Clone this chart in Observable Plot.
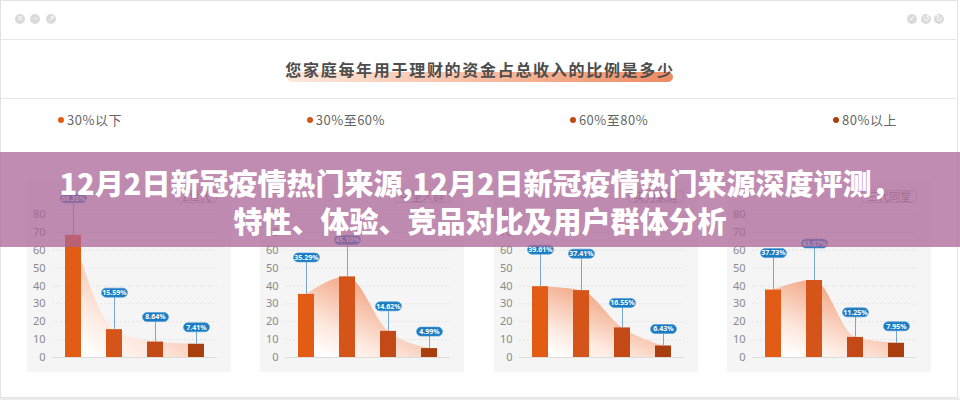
<!DOCTYPE html>
<html>
<head>
<meta charset="utf-8">
<script src="https://cdn.jsdelivr.net/npm/d3@7"></script>
<script src="https://cdn.jsdelivr.net/npm/@observablehq/plot@0.6"></script>
<style>
  html, body { margin: 0; padding: 0; }
  body { width: 960px; height: 400px; overflow: hidden; position: relative; background: #fff;
         font-family: "Noto Sans CJK SC", "Noto Sans", sans-serif; }
  .abs { position: absolute; }
  #frame { left: 0; top: 0; width: 958px; height: 398px; box-sizing: border-box; border: 1px solid #e3e3e3; }
  #bottomband { left: 0; top: 398px; width: 960px; height: 2px; background: #ececec; }
  .hline { left: 0; width: 958px; height: 1px; background: #e6e6e6; }
  .cdot { width: 10px; height: 10px; border-radius: 50%; background: #dadada; color: #fff;
          font-size: 8px; line-height: 10px; text-align: center; font-family: "DejaVu Sans", sans-serif; }
  #titlehl { left: 287px; top: 72px; width: 386px; height: 10px; border-radius: 5px;
             background: linear-gradient(90deg, #fde7dc 0%, #f7bda2 50%, #ee8a62 100%); }
  #title { left: 0; width: 960px; top: 58px; text-align: center; font-size: 16px; font-weight: 700;
           color: #4d4d4d; letter-spacing: 1.7px; line-height: 22px; }
  #legend { left: 58px; width: 839px; top: 111px; display: flex; justify-content: space-between;
            font-size: 13px; color: #666; letter-spacing: 0.5px; line-height: 18px; }
  .litem { display: flex; align-items: center; }
  .ldot { width: 6px; height: 6px; border-radius: 50%; margin-right: 3px; }
  .panel { top: 180px; }
  .ptitle { top: 190px; height: 13px; box-sizing: border-box; border: 1px solid #c9c9c9; border-radius: 4px;
            font-size: 11px; line-height: 11px; color: #8a8a8a; padding: 0 5px; background: #f5f5f6; }
  #banner { left: 0; top: 152px; width: 960px; height: 95px; background: rgba(172, 100, 150, 0.74);
            z-index: 10; color: #fff; font-weight: 900; font-size: 29px; line-height: 38px; text-align: center;
            box-sizing: border-box; padding-top: 11px; }
</style>
</head>
<body>
<script>
// ---- data ----
const chartTitle = "您家庭每年用于理财的资金占总收入的比例是多少";
const categories = ["30%以下", "30%至60%", "60%至80%", "80%以上"];
const groups = ["Z世代", "中坚人群", "实力家庭", "三代同堂"];
const valuesZ = [68.35, 15.59, 8.64, 7.41];
const valuesCore = [35.29, 45.10, 14.62, 4.99];
const valuesStrong = [39.61, 37.41, 16.55, 6.43];
const valuesThreeGen = [37.73, 43.07, 11.25, 7.95];
const yTicks = [0, 10, 20, 30, 40, 50, 60, 70, 80];
const bannerLines = ["12月2日新冠疫情热门来源,12月2日新冠疫情热门来源深度评测，", "特性、体验、竞品对比及用户群体分析"];

// ---- styles ----
const barColors = ["#e35c16", "#d4541a", "#c34917", "#a93e0e"];
const leaderLen = [20.7, 20.7, 14, 9.5]; // callout lift, in y units, per category position
const allValues = [valuesZ, valuesCore, valuesStrong, valuesThreeGen];

function el(tag, cls, css, text) {
  const e = document.createElement(tag);
  if (cls) e.className = cls;
  if (css) Object.assign(e.style, css);
  if (text != null) e.textContent = text;
  document.body.appendChild(e);
  return e;
}

// window chrome
el("div", "abs", {}, null).id = "frame";
el("div", "abs", {}, null).id = "bottomband";
el("div", "abs hline", {top: "39px"});
el("div", "abs hline", {top: "98px"});
[[15, "×"], [30, "–"], [46, "↗"]].forEach(([x, g]) => el("div", "abs cdot", {left: x + "px", top: "14px"}, g));
[[907, "✓"], [921, "↺"], [934, "↻"]].forEach(([x, g]) => el("div", "abs cdot", {left: x + "px", top: "14px"}, g));

// title + highlight
el("div", "abs", {}, null).id = "titlehl";
const t = el("div", "abs", {}, chartTitle); t.id = "title";

// legend
const lg = el("div", "abs"); lg.id = "legend";
categories.forEach((c, i) => {
  const it = document.createElement("div"); it.className = "litem";
  const d = document.createElement("span"); d.className = "ldot"; d.style.background = barColors[i];
  const s = document.createElement("span"); s.textContent = c;
  it.appendChild(d); it.appendChild(s); lg.appendChild(it);
});

// pill symbol for callouts
const pill = {
  draw(ctx) {
    const w = 26, h = 9, r = 4.5;
    ctx.moveTo(-w / 2 + r, -h / 2);
    ctx.lineTo(w / 2 - r, -h / 2);
    ctx.arc(w / 2 - r, 0, r, -Math.PI / 2, Math.PI / 2);
    ctx.lineTo(-w / 2 + r, h / 2);
    ctx.arc(-w / 2 + r, 0, r, Math.PI / 2, Math.PI * 1.5);
    ctx.closePath();
  }
};

const panelW = 204, panelH = 192, panelStep = 233.33, panelX0 = 27;

groups.forEach((g, k) => {
  const data = categories.map((c, i) => ({cat: c, i, value: allValues[k][i]}));
  const gid = "areaGrad" + k;
  const chart = Plot.plot({
    width: panelW,
    height: panelH,
    marginLeft: 25,
    marginRight: 14,
    marginTop: 34,
    marginBottom: 15,
    style: {background: "#f5f5f6", color: "#8a8a8a", fontSize: "11px",
            fontFamily: "'Noto Sans', 'Noto Sans CJK SC', sans-serif", overflow: "visible"},
    x: {domain: categories, axis: null, paddingInner: 0.61, paddingOuter: 0.305},
    y: {domain: [0, 80]},
    color: {domain: categories, range: barColors},
    marks: [
      () => {
        const defs = document.createElementNS("http://www.w3.org/2000/svg", "defs");
        defs.innerHTML = `<linearGradient id="${gid}" x1="0.15" y1="1" x2="0.75" y2="0.15">
          <stop offset="0" stop-color="#ffffff" stop-opacity="1"/>
          <stop offset="0.3" stop-color="#fde9df" stop-opacity="1"/>
          <stop offset="1" stop-color="#f19a74" stop-opacity="1"/></linearGradient>`;
        return defs;
      },
      Plot.ruleY(yTicks.filter(v => v > 0), {stroke: "#e3e3e3", strokeDasharray: "2,2"}),
      Plot.ruleY([0], {stroke: "#dcdcdc"}),
      Plot.areaY(data, {x: "cat", y: "value", curve: "monotone-x", fill: `url(#${gid})`}),
      Plot.barY(data, {x: "cat", y: "value", fill: "cat"}),
      Plot.ruleX(data, {x: "cat", y1: "value", y2: d => d.value + leaderLen[d.i], stroke: "#7aa6cf", strokeWidth: 1}),
      Plot.dot(data, {x: "cat", y: d => d.value + leaderLen[d.i], symbol: pill, fill: "#1b7cc4", stroke: "#4c9ad4", strokeWidth: 0.6}),
      Plot.text(data, {x: "cat", y: d => d.value + leaderLen[d.i], text: d => d.value.toFixed(2) + "%",
                       fill: "white", fontSize: 7, fontWeight: "bold"}),
      Plot.axisY({ticks: yTicks, tickSize: 0, tickPadding: 7, label: null, fontSize: 11})
    ]
  });
  const left = panelX0 + k * panelStep;
  const wrap = el("div", "abs panel", {left: left + "px", width: panelW + "px", height: panelH + "px"});
  wrap.appendChild(chart);
  const pt = el("div", "abs ptitle", {}, g);
  pt.style.left = "0px";
  const w = pt.getBoundingClientRect().width;
  pt.style.left = (left + panelW - 14 - w) + "px";
});

// overlay banner
const bn = el("div", "abs"); bn.id = "banner";
bannerLines.forEach(l => { const d = document.createElement("div"); d.textContent = l; bn.appendChild(d); });
</script>
</body>
</html>
